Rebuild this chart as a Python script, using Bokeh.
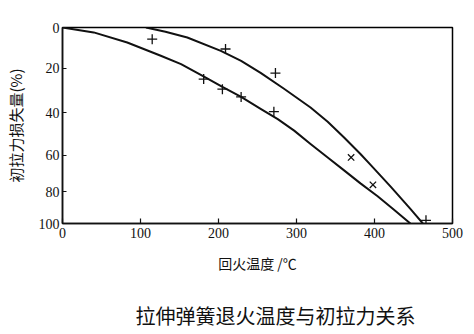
import numpy as np
from bokeh.plotting import figure
from bokeh.models import Range1d, FixedTicker, Title, LinearAxis
from bokeh.embed import file_html
from bokeh.resources import INLINE

# ---- data ----
temp_ticks = [0, 100, 200, 300, 400, 500]
loss_ticks = [0, 20, 40, 60, 80, 100]
# the original drawing's loss axis is not evenly divided: where each tick sits (% of axis height)
loss_tick_pos = [0, 20.9, 43.4, 65.1, 83.7, 100]

lower_temp = [0, 40, 83, 126, 152, 182, 205, 229, 254, 276, 297, 318, 340, 361, 382, 404, 425, 446]
lower_loss = [0, 2.4, 7.3, 13.8, 17.9, 23.8, 28.4, 32.9, 38.3, 43.1, 48.5, 54.8, 61.3, 68.4,
              75.5, 82.9, 91.4, 100]

upper_temp = [107, 132, 160, 203, 229, 254, 284, 318, 340, 361, 382, 395, 421, 446, 462]
upper_loss = [0, 2.1, 4.9, 11.4, 16.3, 22.0, 29.2, 37.7, 44.3, 51.7, 59.5, 65.4, 77.4, 90.8, 100]

plus_temp = [115, 181, 205, 209, 229, 271, 273, 466]
plus_loss = [5.7, 24.8, 29.4, 10.5, 32.9, 39.6, 22.1, 98]
xmark_temp = [370, 398]
xmark_loss = [61.3, 76.3]

x_label = "回火温度 /℃"
y_label = "初拉力损失量(%)"
caption = "拉伸弹簧退火温度与初拉力关系"


def yscale(v):
    return np.interp(np.asarray(v, dtype=float), loss_ticks, loss_tick_pos)


p = figure(width=474, height=334, x_range=Range1d(0, 500), y_range=Range1d(100, 0),
           output_backend="svg", toolbar_location=None,
           min_border_left=62, min_border_right=22, min_border_top=27, min_border_bottom=111)
p.background_fill_color = "white"
p.border_fill_color = "white"
p.xgrid.visible = False
p.ygrid.visible = False
p.outline_line_color = "black"
p.outline_line_width = 1.5
p.outline_line_alpha = 1.0

ink = "#111111"
serif = "Liberation Serif"
cjk = "Noto Sans CJK SC"

p.xaxis.ticker = FixedTicker(ticks=temp_ticks)
tick_pos = [float(t) for t in yscale(loss_ticks)]
p.yaxis.ticker = FixedTicker(ticks=tick_pos)
p.yaxis.major_label_overrides = {tp: str(v) for tp, v in zip(tick_pos, loss_ticks)}

for ax in (p.xaxis[0], p.yaxis[0]):
    ax.axis_line_color = ink
    ax.axis_line_width = 1.5
    ax.major_tick_line_color = ink
    ax.major_tick_line_width = 1.2
    ax.major_tick_out = 0
    ax.minor_tick_line_color = None
    ax.major_label_text_font = serif
    ax.major_label_text_font_size = "14px"
    ax.major_label_text_color = ink
    ax.axis_label_text_font = cjk
    ax.axis_label_text_font_style = "normal"
    ax.axis_label_text_color = ink

p.xaxis.major_tick_in = 5
p.yaxis.major_tick_in = 4
p.xaxis.major_label_standoff = 4
p.yaxis.major_label_standoff = 3
p.xaxis.axis_label = x_label
p.yaxis.axis_label = y_label
p.xaxis.axis_label_text_font_size = "14px"
p.yaxis.axis_label_text_font_size = "15px"
p.xaxis.axis_label_standoff = 12
p.yaxis.axis_label_standoff = 10

p.line(lower_temp, yscale(lower_loss), line_width=2, line_color=ink, line_join="round")
p.line(upper_temp, yscale(upper_loss), line_width=2, line_color=ink, line_join="round")
p.scatter(plus_temp, yscale(plus_loss), marker="cross", size=10, line_width=1.3,
          line_color=ink)
p.scatter(xmark_temp, yscale(xmark_loss), marker="x", size=9, line_width=1.3,
          line_color=ink)

# invisible spacer between the axis label and the caption
spacer = LinearAxis(ticker=FixedTicker(ticks=[250]), axis_line_color=None,
                    major_tick_line_color="white", minor_tick_line_color=None,
                    major_tick_in=0, major_tick_out=20, minor_tick_out=0,
                    major_label_standoff=0, major_label_text_font_size="0px",
                    major_label_overrides={250: ""})
p.add_layout(spacer, "below")

cap = Title(text=caption, text_font=cjk, text_font_size="20px", text_font_style="normal",
            text_color=ink, align="left", offset=73, standoff=6)
p.add_layout(cap, "below")

open("out.html", "w").write(file_html(p, INLINE))
